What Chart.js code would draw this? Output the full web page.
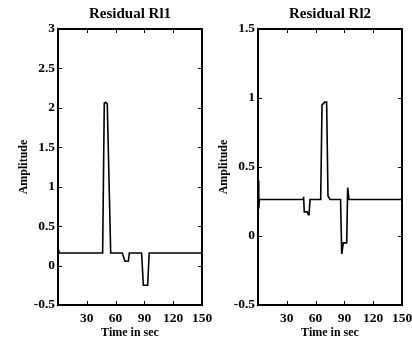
<!DOCTYPE html>
<html>
<head>
<meta charset="UTF-8">
<script src="https://cdn.jsdelivr.net/npm/chart.js"></script>
<style>
  body { margin: 0; background: #fff; }
  .wrap { position: relative; width: 412px; height: 340px; overflow: hidden; }
  .wrap div { position: absolute; top: 0; width: 212px; height: 340px; }
</style>
</head>
<body>
<div class="wrap">
  <div style="left:0"><canvas id="rl1"></canvas></div>
  <div style="left:200px"><canvas id="rl2"></canvas></div>
</div>
<script>
// Residual Rl1 (time in sec, amplitude)
const rl1Time = [0, 1.5, 46.5, 48.2, 49.5, 51.3, 54.9, 67, 69.8, 73.3, 74.3, 87.1, 88.9, 93.4, 95, 150];
const rl1Amp  = [0.22, 0.16, 0.16, 2.06, 2.07, 2.05, 0.16, 0.16, 0.055, 0.055, 0.16, 0.16, -0.25, -0.25, 0.16, 0.16];

// Residual Rl2
const rl2Time = [0, 0.8, 1.5, 47, 47.5, 48.2, 51.4, 52.5, 53.2, 54.2, 65.3, 66.7, 69.6, 71.5, 72.9, 75, 86, 87.2, 88.9, 92.4, 93.4, 94.8, 150];
const rl2Amp  = [0.40, 0.20, 0.265, 0.265, 0.285, 0.175, 0.175, 0.155, 0.155, 0.265, 0.265, 0.95, 0.97, 0.97, 0.29, 0.265, 0.265, -0.13, -0.05, -0.05, 0.35, 0.265, 0.265];

const xTicks = [30, 60, 90, 120, 150];
const yTicks1 = [-0.5, 0, 0.5, 1, 1.5, 2, 2.5, 3];
const yTicks2 = [-0.5, 0, 0.5, 1, 1.5];

const font = 'Liberation Serif';

// box around the plot with inward ticks on all four sides, title over the plot
const framePlugin = {
  id: 'frame',
  afterDraw(chart) {
    const { ctx, chartArea: a, scales } = chart;
    ctx.save();
    ctx.strokeStyle = '#000';
    ctx.lineWidth = 1;
    ctx.beginPath();
    scales.x.ticks.forEach(t => {
      const px = Math.round(scales.x.getPixelForValue(t.value)) + 0.5;
      ctx.moveTo(px, a.bottom); ctx.lineTo(px, a.bottom - 4);
      ctx.moveTo(px, a.top); ctx.lineTo(px, a.top + 4);
    });
    scales.y.ticks.forEach(t => {
      const py = Math.round(scales.y.getPixelForValue(t.value)) + 0.5;
      ctx.moveTo(a.left, py); ctx.lineTo(a.left + 4, py);
      ctx.moveTo(a.right, py); ctx.lineTo(a.right - 4, py);
    });
    ctx.stroke();
    ctx.lineWidth = 2;
    ctx.strokeRect(a.left, a.top, a.right - a.left, a.bottom - a.top);

    ctx.fillStyle = '#000';
    ctx.font = 'bold 15px "' + font + '"';
    ctx.textAlign = 'center';
    ctx.textBaseline = 'middle';
    ctx.fillText(chart.options.plotTitle, (a.left + a.right) / 2, 14);
    ctx.restore();
  }
};

function makeChart(id, title, xs, ys, yMin, yMax, yTicks) {
  return new Chart(document.getElementById(id), {
    type: 'line',
    data: {
      datasets: [{
        data: xs.map((x, i) => ({ x: x, y: ys[i] })),
        borderColor: '#000',
        borderWidth: 1.6,
        pointRadius: 0,
        tension: 0,
        fill: false
      }]
    },
    options: {
      plotTitle: title,
      responsive: false,
      animation: false,
      devicePixelRatio: 1,
      layout: { padding: { left: 0, right: 10, top: 29, bottom: 0 } },
      plugins: {
        legend: { display: false },
        tooltip: { enabled: false },
        title: { display: false }
      },
      scales: {
        x: {
          type: 'linear',
          min: 0, max: 150,
          afterBuildTicks: s => { s.ticks = xTicks.map(v => ({ value: v })); },
          afterFit: s => { s.height = 35; s.paddingLeft = 0; s.paddingRight = 0; },
          grid: { display: false, drawTicks: false },
          border: { display: false },
          ticks: {
            color: '#000', padding: 5, maxRotation: 0, autoSkip: false,
            callback: v => String(v),
            font: { family: font, size: 13.5, weight: 'bold' }
          },
          title: {
            display: true, text: 'Time in sec', color: '#000',
            font: { family: font, size: 12, weight: 'bold' },
            padding: { top: 0, bottom: 0 }
          }
        },
        y: {
          min: yMin, max: yMax,
          afterBuildTicks: s => { s.ticks = yTicks.map(v => ({ value: v })); },
          afterFit: s => { s.width = 58; },
          grid: { display: false, drawTicks: false },
          border: { display: false },
          ticks: {
            color: '#000', padding: 3, autoSkip: false,
            callback: v => String(v),
            font: { family: font, size: 13.5, weight: 'bold' }
          },
          title: {
            display: true, text: 'Amplitude', color: '#000',
            font: { family: font, size: 12, weight: 'bold' },
            padding: { top: 17, bottom: 0 }
          }
        }
      }
    },
    plugins: [framePlugin]
  });
}

document.querySelectorAll('canvas').forEach(c => { c.width = 212; c.height = 340; });
makeChart('rl1', 'Residual Rl1', rl1Time, rl1Amp, -0.5, 3, yTicks1);
makeChart('rl2', 'Residual Rl2', rl2Time, rl2Amp, -0.5, 1.5, yTicks2);
</script>
</body>
</html>
